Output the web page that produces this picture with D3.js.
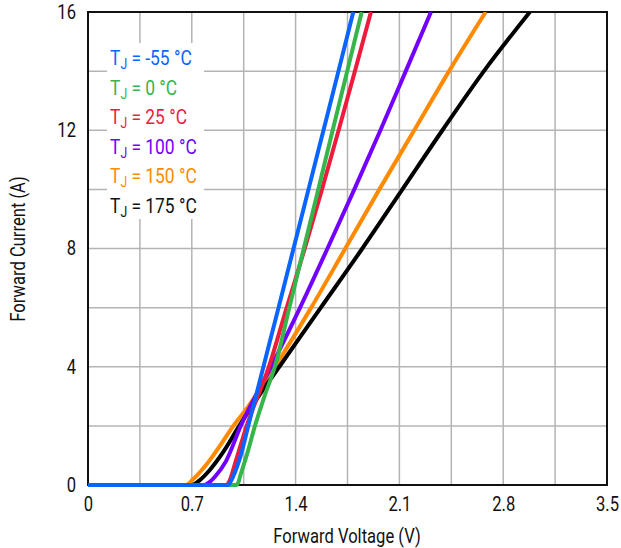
<!DOCTYPE html>
<html><head><meta charset="utf-8">
<script src="https://cdn.jsdelivr.net/npm/d3@7"></script>
<style>html,body{margin:0;padding:0;background:#fff;}svg{display:block;}</style>
</head><body>
<svg id="c" width="621" height="548"></svg>
<script>
const xTicks = [0, 0.7, 1.4, 2.1, 2.8, 3.5];
const yTicks = [0, 4, 8, 12, 16];
const seriesNames = ["-55 °C", "0 °C", "25 °C", "100 °C", "150 °C", "175 °C"];
const seriesColors = ["#0a64ff", "#35b54a", "#ee1c3c", "#7300ff", "#ff8a00", "#000000"];
// Forward voltage (V) / current (A) samples per junction temperature
const vM55 = [0, 0.945, 0.96, 0.98, 1.03, 1.081, 1.183, 1.285, 1.386, 1.487, 1.588, 1.689, 1.789];
const iM55 = [0, 0, 0.1, 0.3, 1, 2, 4, 6, 8, 10, 12, 14, 16];
const v0 = [0, 1.0, 1.015, 1.025, 1.07, 1.126, 1.19, 1.26, 1.358, 1.455, 1.553, 1.65, 1.748, 1.846];
const i0 = [0, 0, 0.1, 0.28, 1, 2, 3, 4, 6, 8, 10, 12, 14, 16];
const v25 = [0, 0.93, 0.955, 0.99, 1.07, 1.22, 1.34, 1.462, 1.578, 1.69, 1.8, 1.908];
const i25 = [0, 0, 0.15, 0.7, 2, 4, 6, 8, 10, 12, 14, 16];
const v100 = [0, 0.78, 0.82, 0.856, 0.93, 1.03, 1.235, 1.43, 1.615, 1.796, 1.972, 2.143, 2.313];
const i100 = [0, 0, 0.1, 0.28, 0.8, 2, 4, 6, 8, 10, 12, 14, 16];
const v150 = [0, 0.66, 0.71, 0.8, 0.9, 0.98, 1.08, 1.2, 1.26, 1.505, 1.735, 1.965, 2.2, 2.435, 2.682];
const i150 = [0, 0, 0.2, 0.7, 1.4, 2, 2.65, 3.55, 4, 6, 8, 10, 12, 14, 16];
const v175 = [0, 0.70, 0.75, 0.82, 0.91, 1.02, 1.11, 1.15, 1.29, 1.57, 1.85, 2.12, 2.39, 2.67, 2.98];
const i175 = [0, 0, 0.15, 0.5, 1.1, 2, 2.7, 3, 4, 6, 8, 10, 12, 14, 16];

const series = [
  {name: seriesNames[0], color: seriesColors[0], v: vM55, i: iM55},
  {name: seriesNames[1], color: seriesColors[1], v: v0, i: i0},
  {name: seriesNames[2], color: seriesColors[2], v: v25, i: i25},
  {name: seriesNames[3], color: seriesColors[3], v: v100, i: i100},
  {name: seriesNames[4], color: seriesColors[4], v: v150, i: i150},
  {name: seriesNames[5], color: seriesColors[5], v: v175, i: i175}
];

const FONT = "Roboto, 'Liberation Sans', sans-serif";
const SX = 0.83;
const FS = 20;
const m = {left: 88, top: 12, right: 607, bottom: 485};
const svg = d3.select("#c");
const x = d3.scaleLinear().domain([0, 3.5]).range([m.left, m.right]);
const y = d3.scaleLinear().domain([0, 16]).range([m.bottom, m.top]);

// grid
const g = svg.append("g");
g.selectAll("line.vx").data(d3.range(1, 10).map(k => k * 0.35)).join("line")
  .attr("x1", d => x(d)).attr("x2", d => x(d)).attr("y1", m.top).attr("y2", m.bottom)
  .attr("stroke", "#b4b4b4").attr("stroke-width", 1.5);
g.selectAll("line.hy").data(d3.range(1, 8).map(k => k * 2)).join("line")
  .attr("x1", m.left).attr("x2", m.right).attr("y1", d => y(d)).attr("y2", d => y(d))
  .attr("stroke", "#b4b4b4").attr("stroke-width", 1.5);

// legend background
svg.append("rect").attr("x", 107).attr("y", 43).attr("width", 97).attr("height", 176).attr("fill", "#fff");

// frame
svg.append("rect").attr("x", m.left).attr("y", m.top).attr("width", m.right - m.left).attr("height", m.bottom - m.top)
  .attr("fill", "none").attr("stroke", "#111").attr("stroke-width", 2);

// axes tick labels
const xa = svg.append("g").attr("transform", `translate(0,${m.bottom})`)
  .call(d3.axisBottom(x).tickValues(xTicks).tickSize(0).tickPadding(12).tickFormat(d => d === 0 ? "0" : d3.format(".1f")(d)));
xa.select(".domain").remove();
xa.selectAll("text").attr("font-family", FONT).attr("font-size", FS).attr("fill", "#111").attr("transform", `scale(${SX},1)`);
const ya = svg.append("g").attr("transform", `translate(${m.left},0)`)
  .call(d3.axisLeft(y).tickValues(yTicks).tickSize(0).tickPadding(12 / SX));
ya.select(".domain").remove();
ya.selectAll("text").attr("font-family", FONT).attr("font-size", FS).attr("fill", "#111").attr("transform", `scale(${SX},1)`);

svg.append("g").attr("transform", `translate(347,543) scale(${SX},1)`).append("text").attr("text-anchor", "middle")
  .attr("font-family", FONT).attr("font-size", FS).attr("fill", "#111").text("Forward Voltage (V)");
svg.append("g").attr("transform", `translate(25,249) rotate(-90) scale(${SX},1)`).append("text").attr("text-anchor", "middle")
  .attr("font-family", FONT).attr("font-size", FS).attr("fill", "#111").text("Forward Current (A)");

// curves
const line = d3.line().x(d => x(d[0])).y(d => y(d[1])).curve(d3.curveMonotoneX);
svg.append("clipPath").attr("id", "pc").append("rect")
  .attr("x", m.left - 3).attr("y", m.top).attr("width", m.right - m.left + 3).attr("height", m.bottom - m.top + 3);
const drawOrder = [4, 5, 3, 2, 1, 0];
svg.append("g").attr("clip-path", "url(#pc)").selectAll("path").data(drawOrder.map(k => series[k])).join("path")
  .attr("d", s => line(s.v.map((v, k) => [v, s.i[k]])))
  .attr("fill", "none").attr("stroke", s => s.color).attr("stroke-width", 4).attr("stroke-linejoin", "round");

// legend
const lg = svg.append("g");
series.forEach((s, k) => {
  const t = lg.append("g").attr("transform", `translate(110,${65 + k * 29.5}) scale(0.87,1)`).append("text")
    .attr("font-family", FONT).attr("font-size", FS).attr("fill", s.color === "#000000" ? "#111" : s.color);
  t.append("tspan").text("T");
  t.append("tspan").attr("font-size", 14).attr("dy", 4).text("J");
  t.append("tspan").attr("dy", -4).text(" = " + s.name);
});
</script>
</body></html>
